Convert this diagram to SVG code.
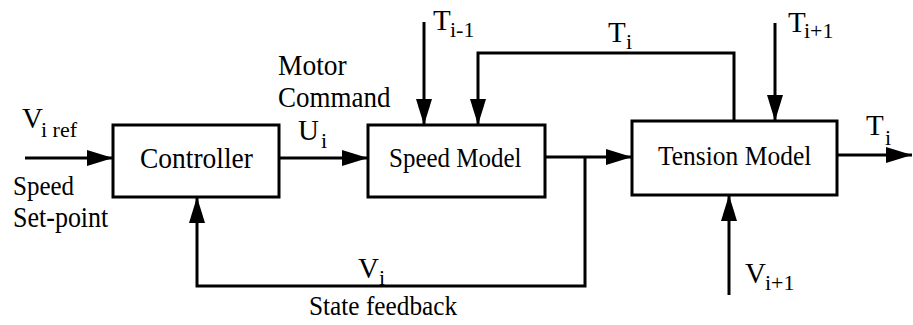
<svg xmlns="http://www.w3.org/2000/svg" width="913" height="325" viewBox="0 0 913 325">
<style>
.box{fill:#fff;stroke:#000;stroke-width:3}
.ln{fill:none;stroke:#000;stroke-width:3;marker-end:url(#ah)}
</style>
<defs>
<marker id="ah" markerUnits="userSpaceOnUse" markerWidth="26" markerHeight="16" refX="26" refY="8" orient="auto">
<path d="M0,0 L26,8 L0,16 Z" fill="#000"/>
</marker>
</defs>
<rect width="913" height="325" fill="#fff"/>
<g id="connectors">
<path class="ln" d="M25,158 H113"/>
<path class="ln" d="M279,158 H368"/>
<path class="ln" d="M545,157 H632"/>
<path class="ln" d="M585,157 V286 H197 V197"/>
<path class="ln" d="M424,22 V125"/>
<path class="ln" d="M734,121 V53 H478 V125"/>
<path class="ln" d="M775,23 V121"/>
<path class="ln" d="M837,155 H912"/>
<path class="ln" d="M729,295 V195"/>
</g>
<g id="controller">
<rect class="box" x="113" y="125" width="166" height="72"/>
<text font-family="Liberation Serif" font-size="27.5" transform="matrix(1 0 0 1.1 140 168)">Controller</text>
</g>
<g id="speed-model">
<rect class="box" x="368" y="125" width="177" height="72"/>
<text font-family="Liberation Serif" font-size="25" transform="matrix(1 0 0 1.1 389 167)">Speed Model</text>
</g>
<g id="tension-model">
<rect class="box" x="632" y="121" width="205" height="74"/>
<text font-family="Liberation Serif" font-size="25.5" transform="matrix(1 0 0 1.1 658 165)">Tension Model</text>
</g>
<g id="labels">
<text font-family="Liberation Serif" font-size="29" x="22" y="128">V</text>
<text font-family="Liberation Serif" font-size="22" x="41" y="137">i ref</text>
<text font-family="Liberation Serif" font-size="25" transform="matrix(1 0 0 1.1 13 195)">Speed</text>
<text font-family="Liberation Serif" font-size="26" transform="matrix(1 0 0 1.1 13 227)">Set-point</text>
<text font-family="Liberation Serif" font-size="27.5" transform="matrix(1 0 0 1.1 278 75)">Motor</text>
<text font-family="Liberation Serif" font-size="27" transform="matrix(1 0 0 1.1 278 107)">Command</text>
<text font-family="Liberation Serif" font-size="29" x="298" y="140">U</text>
<text font-family="Liberation Serif" font-size="22" x="321" y="148">i</text>
<text font-family="Liberation Serif" font-size="29" x="358" y="278">V</text>
<text font-family="Liberation Serif" font-size="22" x="379" y="285">i</text>
<text font-family="Liberation Serif" font-size="25.3" transform="matrix(1 0 0 1.1 309 315)">State feedback</text>
<text font-family="Liberation Serif" font-size="29" x="433" y="30">T</text>
<text font-family="Liberation Serif" font-size="22" x="450" y="37">i-1</text>
<text font-family="Liberation Serif" font-size="29" x="608" y="42">T</text>
<text font-family="Liberation Serif" font-size="22" x="626" y="49">i</text>
<text font-family="Liberation Serif" font-size="29" x="788" y="32">T</text>
<text font-family="Liberation Serif" font-size="22" x="804" y="38">i+1</text>
<text font-family="Liberation Serif" font-size="29" x="866" y="135">T</text>
<text font-family="Liberation Serif" font-size="22" x="885" y="145">i</text>
<text font-family="Liberation Serif" font-size="29" x="745" y="283">V</text>
<text font-family="Liberation Serif" font-size="22" x="765" y="290">i+1</text>
</g>
</svg>
